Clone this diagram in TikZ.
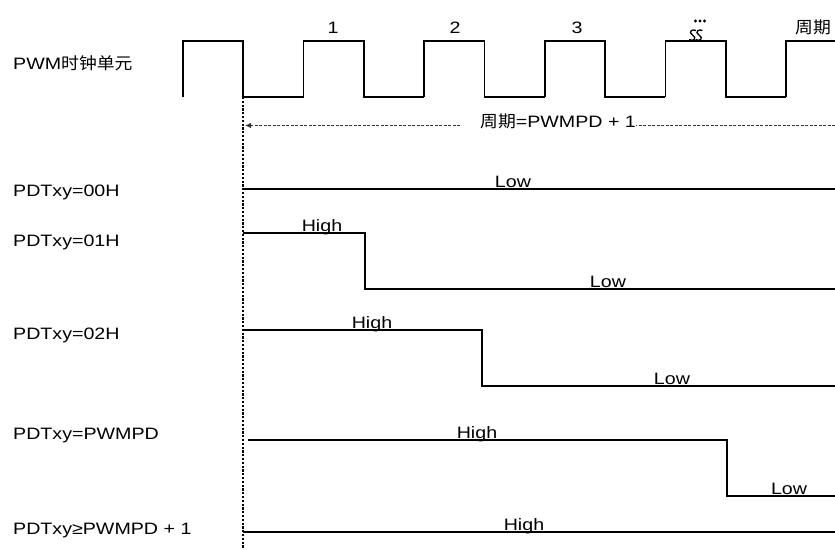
\documentclass[tikz,border=0pt]{standalone}
\usepackage{fontspec}
\setmainfont{Liberation Sans}[FakeStretch=1.19]
\newfontfamily\cjk{Noto Sans CJK SC}[FakeStretch=1.08]
\usepackage{tikz}
\usetikzlibrary{arrows.meta,calc}
\newcommand\wavefont{\fontsize{16.5}{19}\selectfont}

\begin{document}
\begin{tikzpicture}[
  x=1pt, y=-1pt,
  every node/.style={font=\wavefont, inner sep=0pt},
  rowlbl/.style={anchor=west},
  lvl/.style={anchor=base},
  clk/.style={line width=1.7pt},
  wave/.style={line width=1.4pt},
  perline/.style={dash pattern=on 3pt off 1.5pt, line width=0.9pt, black!80},
]
\useasboundingbox (0,0) rectangle (835,549);

%% Row labels (y = row centre)
\foreach \nm/\yy/\lab in {
  clklbl/63/{PWM{\cjk 时钟单元}},
  lblA/192/{PDTxy=00H},
  lblB/242/{PDTxy=01H},
  lblC/335/{PDTxy=02H},
  lblD/436/{PDTxy=PWMPD},
  lblE/531/{PDTxy≥PWMPD + 1}%
}{
  \node[rowlbl] (\nm) at (13,\yy) {\lab};
}

%% PWM clock: high=41, low=97, half period 60.3
\def\hi{41}
\def\lo{97}
\def\hp{60.3}
\foreach \k in {0,...,4}{
  \draw[clk] (183+2*\hp*\k,\lo) -- (183+2*\hp*\k,\hi) -- (183+2*\hp*\k+\hp,\hi)
    -- (183+2*\hp*\k+\hp,\lo) -- (183+2*\hp*\k+2*\hp,\lo);
}
\draw[clk] (786,\lo) -- (786,\hi) -- (835,\hi);

%% pulse numbers
\foreach \nm/\xx/\lab in {n1/333/1, n2/455/2, n3/577/3}{
  \node[lvl] (\nm) at (\xx,33) {\lab};
}
\foreach \dx in {-4.5,0,4.5}{
  \fill (700+\dx,21) circle (1.6);
}
\node[anchor=base west] (nper) at (795,33) {\cjk 周期};

%% break mark on the 4th pulse
\foreach \sx in {692.5,699}{
  \draw[line width=1.3pt] (\sx+3.5,30.5) .. controls (\sx,28.5) and (\sx-5,32) .. (\sx,35)
    .. controls (\sx+5,38) and (\sx+1,42) .. (\sx-3.5,39.5);
}

%% start of the period
\coordinate (t0) at (243,97);
\coordinate (tend) at (243,549);
\draw[dash pattern=on 2.2pt off 1.6pt, line width=2pt] (t0) -- (tend);

%% period arrow
\coordinate (perL) at (245,125.5);
\coordinate (perR) at (835,125.5);
\node[anchor=west] (perlbl) at (480,121) {{\cjk 周期}=PWMPD + 1};
\draw[perline] (perR) -- (perlbl.east |- perR);
\draw[perline, -{Latex[length=6pt,width=5.5pt]}] ($(perlbl.west |- perL)+(-20,0)$) -- (perL);

%% PDTxy=00H
\draw[wave] (243,189) -- (835,189);
\node[lvl] (lowA) at (513,187.5) {Low};

%% PDTxy=01H
\draw[wave] (243,233) -- (365,233) -- (365,289) -- (835,289);
\node[lvl] (highB) at (322,231) {High};
\node[lvl] (lowB) at (608,287.5) {Low};

%% PDTxy=02H
\draw[wave] (243,330) -- (482,330) -- (482,386) -- (835,386);
\node[lvl] (highC) at (372,328) {High};
\node[lvl] (lowC) at (672,384.5) {Low};

%% PDTxy=PWMPD
\draw[wave] (248,440) -- (727,440) -- (727,496) -- (835,496);
\node[lvl] (highD) at (477,438) {High};
\node[lvl] (lowD) at (789,494.5) {Low};

%% PDTxy>=PWMPD+1
\draw[wave] (243,532) -- (835,532);
\node[lvl] (highE) at (524,530) {High};

\end{tikzpicture}
\end{document}
